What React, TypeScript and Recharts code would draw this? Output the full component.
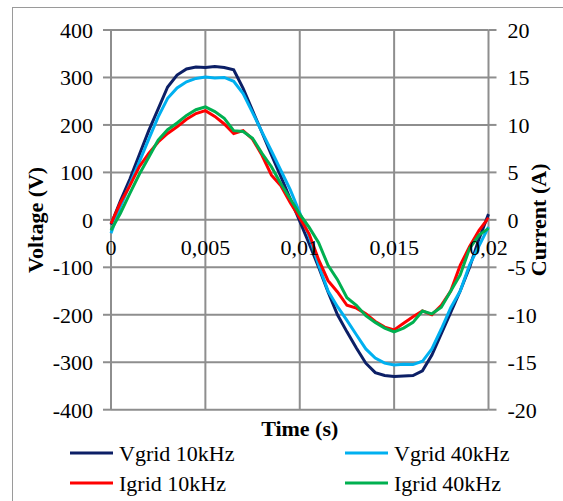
import React from 'react';
import { LineChart, Line, XAxis, YAxis, CartesianGrid } from 'recharts';

// ---- data ----
const timeS = [
  0, 0.0005, 0.001, 0.0015, 0.002, 0.0025, 0.003, 0.0035, 0.004, 0.0045,
  0.005, 0.0055, 0.006, 0.0065, 0.007, 0.0075, 0.008, 0.0085, 0.009, 0.0095,
  0.01, 0.0105, 0.011, 0.0115, 0.012, 0.0125, 0.013, 0.0135, 0.014, 0.0145,
  0.015, 0.0155, 0.016, 0.0165, 0.017, 0.0175, 0.018, 0.0185, 0.019, 0.0195,
  0.02,
];
const vgrid10k = [
  -10, 40, 86, 137, 188, 234, 280, 305, 318, 322,
  321, 323, 321, 316, 277, 230, 184, 137, 91, 44,
  -3, -50, -100, -152, -200, -236, -270, -302, -322, -328,
  -330, -329, -328, -318, -285, -240, -195, -150, -100, -40,
  12,
];
const vgrid40k = [
  -28, 28, 75, 122, 170, 217, 256, 278, 291, 298,
  301, 299, 300, 292, 266, 226, 185, 145, 104, 63,
  15, -35, -95, -150, -183, -212, -242, -272, -291, -302,
  -306, -304, -305, -298, -272, -230, -185, -150, -95, -55,
  -15,
];
const igrid10k = [
  -0.4, 1.8, 3.6, 5.6, 7.0, 8.2, 9.1, 9.8, 10.6, 11.2,
  11.5, 10.9, 10.1, 9.1, 9.4, 8.5, 6.8, 4.7, 3.6, 1.8,
  0.2, -1.5, -4.2, -6.4, -7.6, -9.0, -9.3, -9.9, -10.7, -11.3,
  -11.6, -10.9, -10.2, -9.6, -10.0, -9.0, -7.5, -4.8, -2.8, -1.1,
  0.2,
];
const igrid40k = [
  -1.1, 0.7, 2.8, 4.8, 6.6, 8.4, 9.5, 10.2, 11.0, 11.6,
  11.9, 11.4, 10.7, 9.4, 9.3, 8.6, 7.0, 5.6, 3.8, 2.2,
  0.6, -0.8, -2.4, -4.8, -6.3, -8.2, -9.0, -10.1, -10.8, -11.4,
  -11.8, -11.4, -10.8, -9.6, -9.9, -9.2, -7.5, -5.8, -3.0, -1.6,
  -0.9,
];
const xTicks = [0, 0.005, 0.01, 0.015, 0.02];
const xTickLabels = ['0', '0,005', '0,01', '0,015', '0,02'];
const voltTicks = [-400, -300, -200, -100, 0, 100, 200, 300, 400];
const currTicks = [-20, -15, -10, -5, 0, 5, 10, 15, 20];
const seriesKeys = ['v10', 'v40', 'i10', 'i40'];
const seriesNames = ['Vgrid 10kHz', 'Vgrid 40kHz', 'Igrid 10kHz', 'Igrid 40kHz'];
const seriesColors = ['#0C1F66', '#00B0F0', '#FF0000', '#00B050'];
const seriesAxis = ['left', 'left', 'right', 'right'];

const rows = timeS.map((t, i) => ({
  t,
  v10: vgrid10k[i],
  v40: vgrid40k[i],
  i10: igrid10k[i],
  i40: igrid40k[i],
}));

// ---- layout ----
const W = 563;
const H = 501;
const PLOT_LEFT = 111;
const PLOT_RIGHT = 488.5;
const PLOT_TOP = 30;
const PLOT_BOTTOM = 409.7;
const ZERO_Y = (PLOT_TOP + PLOT_BOTTOM) / 2;
const FONT = 'Liberation Serif';
const FS = 22;
const GRID = '#8e8e8e';

function XTick(props: any) {
  const { x, index } = props;
  return (
    <text
      x={x}
      y={ZERO_Y + 27}
      dy="0.355em"
      textAnchor="middle"
      fontFamily={FONT}
      fontSize={FS}
      fill="#000"
    >
      {xTickLabels[index]}
    </text>
  );
}

export default function App() {
  const legendCols = [70, 345];
  const legendRows = [453, 483];
  return (
    <div
      style={{
        position: 'absolute',
        left: 0,
        top: 0,
        width: W,
        height: H,
        overflow: 'hidden',
        background: '#fff',
        fontFamily: FONT,
      }}
    >
      <div
        style={{
          position: 'absolute',
          left: 12,
          top: 7,
          width: 700,
          height: 700,
          borderLeft: '1px solid #9a9a9a',
          borderTop: '1px solid #9a9a9a',
        }}
      />
      <div style={{ position: 'absolute', left: 0, top: 0 }}>
        <LineChart
          width={W}
          height={H}
          data={rows}
          margin={{ top: PLOT_TOP, right: 0, bottom: 0, left: 0 }}
          style={{ fontFamily: FONT }}
        >
          <CartesianGrid
            yAxisId="left"
            stroke={GRID}
            strokeWidth={2}
            fill="none"
          />
          <XAxis
            dataKey="t"
            type="number"
            domain={[0, 0.02]}
            ticks={xTicks}
            height={H - PLOT_BOTTOM}
            axisLine={false}
            tickLine={false}
            tick={<XTick />}
            interval={0}
          />
          <YAxis
            yAxisId="left"
            domain={[-400, 400]}
            ticks={voltTicks}
            width={PLOT_LEFT}
            axisLine={false}
            tickLine={{ stroke: GRID, strokeWidth: 2 }}
            tickSize={8}
            tickMargin={10}
            interval={0}
            tick={{ fontFamily: FONT, fontSize: FS, fill: '#000' }}
          />
          <YAxis
            yAxisId="right"
            orientation="right"
            domain={[-20, 20]}
            ticks={currTicks}
            width={W - PLOT_RIGHT}
            axisLine={false}
            tickLine={{ stroke: GRID, strokeWidth: 2 }}
            tickSize={8}
            tickMargin={11}
            interval={0}
            tick={{ fontFamily: FONT, fontSize: FS, fill: '#000' }}
          />
          {seriesKeys.map((k, i) => (
            <Line
              key={k}
              yAxisId={seriesAxis[i]}
              dataKey={k}
              name={seriesNames[i]}
              stroke={seriesColors[i]}
              strokeWidth={3}
              dot={false}
              type="linear"
              isAnimationActive={false}
            />
          ))}
        </LineChart>
      </div>
      <svg
        width={W}
        height={H}
        style={{ position: 'absolute', left: 0, top: 0, pointerEvents: 'none' }}
      >
        <text
          transform={`translate(35, ${ZERO_Y}) rotate(-90)`}
          textAnchor="middle"
          dy="0.355em"
          fontFamily={FONT}
          fontSize={FS}
          fontWeight="bold"
          fill="#000"
        >
          Voltage (V)
        </text>
        <text
          transform={`translate(538, ${ZERO_Y}) rotate(-90)`}
          textAnchor="middle"
          dy="0.355em"
          fontFamily={FONT}
          fontSize={FS}
          fontWeight="bold"
          fill="#000"
        >
          Current (A)
        </text>
        <text
          x={(PLOT_LEFT + PLOT_RIGHT) / 2}
          y={428}
          dy="0.355em"
          textAnchor="middle"
          fontFamily={FONT}
          fontSize={FS}
          fontWeight="bold"
          fill="#000"
        >
          Time (s)
        </text>
        {seriesNames.map((n, i) => {
          const cx = legendCols[i % 2];
          const cy = legendRows[Math.floor(i / 2)];
          return (
            <g key={n}>
              <line x1={cx} x2={cx + 43} y1={cy} y2={cy} stroke={seriesColors[i]} strokeWidth={3} />
              <text
                x={cx + 49}
                y={cy}
                dy="0.355em"
                fontFamily={FONT}
                fontSize={FS}
                fill="#000"
              >
                {n}
              </text>
            </g>
          );
        })}
      </svg>
    </div>
  );
}
